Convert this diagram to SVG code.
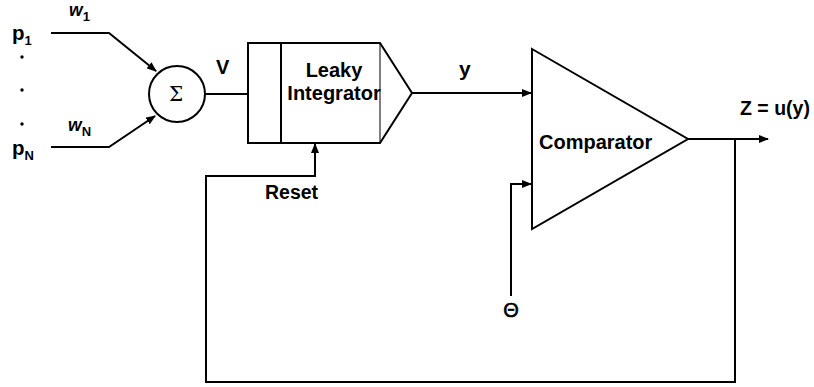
<svg xmlns="http://www.w3.org/2000/svg" width="814" height="387" viewBox="0 0 814 387">
<style>
.ln{fill:none;stroke:#000;stroke-width:2}
.thin{fill:none;stroke:#000;stroke-width:1}
.t{font-family:"Liberation Sans",Arial,sans-serif;font-weight:bold;fill:#000}
</style>
<defs>
<marker id="ar" markerWidth="10" markerHeight="8" refX="9" refY="4" orient="auto" markerUnits="userSpaceOnUse">
<path d="M0,0 L10,4 L0,8 Z" fill="#000"/>
</marker>
</defs>
<rect width="814" height="387" fill="#fff"/>
<g id="connectors">
<polyline class="ln" points="51,33 109,33 156,71" marker-end="url(#ar)"/>
<polyline class="ln" points="51,147 109,147 155,116" marker-end="url(#ar)"/>
<line class="ln" x1="206" y1="94" x2="248" y2="94"/>
<line class="ln" x1="412" y1="93" x2="531" y2="93" marker-end="url(#ar)"/>
<polyline class="ln" points="511,296 511,184 531,184" marker-end="url(#ar)"/>
<line class="ln" x1="688" y1="139" x2="768" y2="139" marker-end="url(#ar)"/>
<polyline class="ln" points="735,139 735,382 206,382 206,176 315,176 315,144" marker-end="url(#ar)"/>
</g>
<g id="inputs">
<text class="t" x="12" y="40" font-size="20.5">p<tspan font-size="13" dy="5">1</tspan></text>
<text class="t" x="12" y="155" font-size="20.5">p<tspan font-size="13" dy="5">N</tspan></text>
<text class="t" x="69" y="16" font-size="17.5" font-style="italic">w<tspan font-size="13" dy="5" font-style="normal">1</tspan></text>
<text class="t" x="68" y="131" font-size="17.5" font-style="italic">w<tspan font-size="13" dy="5" font-style="normal">N</tspan></text>
<circle cx="22" cy="57" r="1.7" fill="#000"/>
<circle cx="22" cy="90" r="1.7" fill="#000"/>
<circle cx="22" cy="124" r="1.7" fill="#000"/>
</g>
<g id="sum">
<circle class="ln" cx="177" cy="94" r="28"/>
<text x="176" y="101" font-size="20" text-anchor="middle" font-family="'DejaVu Serif','Liberation Serif',serif" fill="#000">Σ</text>
</g>
<text class="t" x="216" y="74" font-size="20">V</text>
<g id="integrator">
<path class="ln" d="M248,43 L380,43 L412,93 L380,143 L248,143 Z"/>
<line class="ln" x1="281" y1="43" x2="281" y2="143"/>
<line class="thin" x1="380" y1="43" x2="380" y2="143"/>
<text class="t" x="334" y="77" font-size="20" text-anchor="middle">Leaky</text>
<text class="t" x="334" y="100" font-size="20" text-anchor="middle">Integrator</text>
</g>
<text class="t" x="459" y="76" font-size="21">y</text>
<text class="t" x="265" y="199" font-size="19.5">Reset</text>
<g id="comparator">
<path class="ln" d="M532,49 L688,139 L532,229 Z"/>
<text class="t" x="539" y="149" font-size="20">Comparator</text>
</g>
<text class="t" x="740" y="115" font-size="19.5">Z = u(y)</text>
<text x="511" y="317" font-size="20" text-anchor="middle" font-family="'Liberation Sans',Arial,sans-serif" stroke="#000" stroke-width="0.6" fill="#000">Θ</text>
</svg>
